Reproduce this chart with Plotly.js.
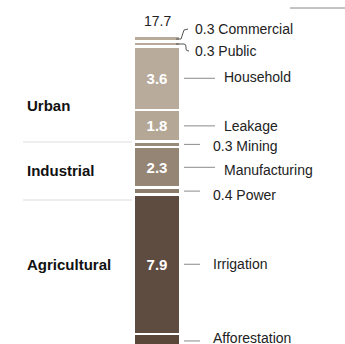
<!DOCTYPE html>
<html><head><meta charset="utf-8">
<script src="https://cdn.plot.ly/plotly-3.0.1.min.js"></script>
<style>html,body{margin:0;padding:0;background:#fff}#c{width:345px;height:344px}</style>
</head><body><div id="c"></div>
<script>
// Data (bottom to top)
const segments = ["Afforestation","Irrigation","Power","Manufacturing","Mining","Leakage","Household","Public","Commercial"];
const values   = [0.8, 7.9, 0.4, 2.3, 0.3, 1.8, 3.6, 0.3, 0.3];
const colors   = ["#5a473a","#5f4c40","#8c7c6c","#958575","#9a8a7a","#b5a796","#b8ab9b","#b8ab9b","#b8ab9b"];
const showValueInside = [false,true,false,true,false,true,true,false,false];
const rightLabels = ["Afforestation","Irrigation","0.4 Power","Manufacturing","0.3 Mining","Leakage","Household","0.3 Public","0.3 Commercial"];
const total = 17.7;
const groups = ["Urban","Industrial","Agricultural"];

const W = 345, H = 344;
const px = v => v / W;          // paper x from pixel
const py = v => 1 - v / H;      // paper y from pixel

const traces = segments.map((s, i) => ({
  type: "bar",
  x: ["Total"],
  y: [values[i]],
  name: s,
  width: 1.06,
  marker: {color: colors[i], line: {color: "#ffffff", width: 2.6}},
  text: showValueInside[i] ? [values[i].toFixed(1)] : [""],
  textposition: "inside",
  insidetextanchor: "middle",
  textfont: {color: "#ffffff", size: 15, family: "Liberation Sans, Arial, sans-serif", weight: "bold"},
  hoverinfo: "skip",
  showlegend: false
}));

// cumulative midpoints
const mids = [];
let acc = 0;
values.forEach(v => { mids.push(acc + v / 2); acc += v; });

const annotations = [];
const shapes = [];
const font = {family: "Liberation Sans, Arial, sans-serif", size: 14, color: "#222"};
// small vertical nudges (pixels) so labels sit where the reference shows them
const nudge = [3, 0, -4, -3, -2, 0, 1, 0, 0];

rightLabels.forEach((lab, i) => {
  if (lab.indexOf("Public") >= 0 || lab.indexOf("Commercial") >= 0) return;
  const long = !/^\d/.test(lab) && lab !== "Irrigation" && lab !== "Afforestation";
  const x1 = long ? 215 : 200;
  const tx = long ? 222 : 211;
  shapes.push({type: "line", xref: "paper", yref: "y", x0: px(184), x1: px(x1), y0: mids[i], y1: mids[i],
    ysizemode: "scaled", line: {color: "#8a8a8a", width: 1}});
  annotations.push({xref: "paper", yref: "y", x: px(tx), y: mids[i], text: lab, showarrow: false,
    xanchor: "left", yanchor: "middle", yshift: nudge[i], font: font});
});

// Commercial & Public labels with connectors
annotations.push({xref: "paper", yref: "paper", x: px(193), y: py(29), text: rightLabels[8], showarrow: false,
  xanchor: "left", yanchor: "middle", font: font});
annotations.push({xref: "paper", yref: "paper", x: px(193), y: py(51), text: rightLabels[7], showarrow: false,
  xanchor: "left", yanchor: "middle", font: font});
shapes.push({type: "path", xref: "paper", yref: "paper",
  path: `M ${px(176)} ${py(39)} L ${px(181)} ${py(39)} L ${px(184)} ${py(30)} L ${px(188)} ${py(29)}`,
  line: {color: "#555", width: 1}});
shapes.push({type: "path", xref: "paper", yref: "paper",
  path: `M ${px(176)} ${py(44)} L ${px(184)} ${py(44)} Q ${px(186)} ${py(44)} ${px(186)} ${py(47)} L ${px(186)} ${py(49)} Q ${px(186)} ${py(51)} ${px(189)} ${py(51)}`,
  line: {color: "#555", width: 1}});

// Total label
annotations.push({xref: "x", yref: "y", x: "Total", y: total, text: total.toFixed(1), showarrow: false,
  yanchor: "bottom", yshift: 5, font: {family: "Liberation Sans, Arial, sans-serif", size: 14, color: "#222"}});

// Group labels
const groupY = [105, 170, 264];
groups.forEach((g, i) => {
  annotations.push({xref: "paper", yref: "paper", x: px(25), y: py(groupY[i]), text: "<b>" + g + "</b>",
    showarrow: false, xanchor: "left", yanchor: "middle",
    font: {family: "Liberation Sans, Arial, sans-serif", size: 15, color: "#111"}});
});
// Group separators
[142, 200].forEach(v => shapes.push({type: "line", xref: "paper", yref: "paper", x0: px(23), x1: px(132),
  y0: py(v), y1: py(v), line: {color: "#dddddd", width: 1}}));
// top decorative line
shapes.push({type: "line", xref: "paper", yref: "paper", x0: px(290), x1: px(345), y0: py(8), y1: py(8),
  line: {color: "#888", width: 1}});

const layout = {
  width: W, height: H,
  margin: {l: 0, r: 0, t: 0, b: 0},
  barmode: "stack",
  paper_bgcolor: "#fff", plot_bgcolor: "#fff",
  xaxis: {type: "category", range: [-157/44, 188/44], visible: false, fixedrange: true},
  yaxis: {range: [0.227, 19.74], visible: false, fixedrange: true},
  annotations: annotations,
  shapes: shapes,
  showlegend: false
};
Plotly.newPlot("c", traces, layout, {displayModeBar: false, staticPlot: true});
</script></body></html>
